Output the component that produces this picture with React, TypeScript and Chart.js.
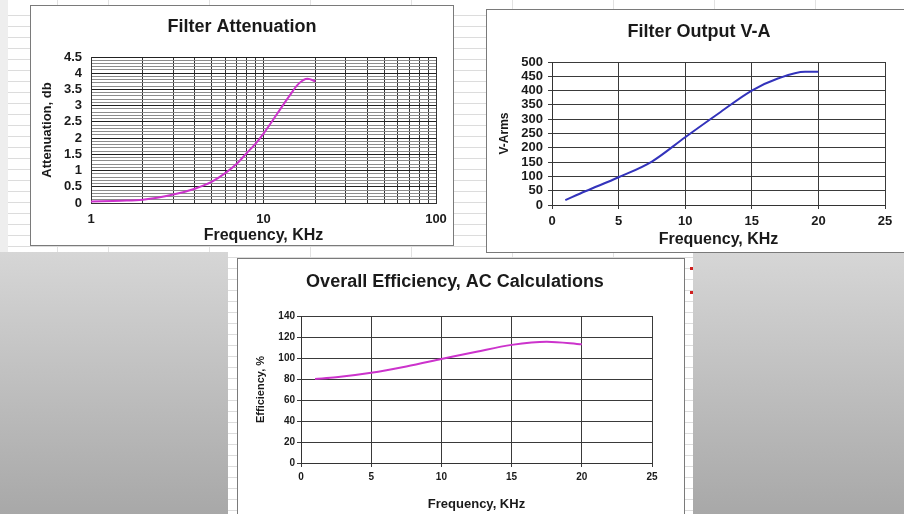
import React, { useEffect, useRef } from "react";
import { Chart, registerables } from "chart.js";
Chart.register(...registerables);
Chart.defaults.font.family = "'Liberation Sans', Arial, sans-serif";

// ---- Data ----
const attenFreq = [1, 1.5, 2, 3, 4, 5, 6, 7, 8, 9, 10, 12, 14, 16, 18, 20];
const attenDb = [0.05, 0.07, 0.1, 0.26, 0.44, 0.65, 0.92, 1.21, 1.54, 1.83, 2.14, 2.75, 3.27, 3.68, 3.83, 3.75];
const attenXTicks = [1, 2, 3, 4, 5, 6, 7, 8, 9, 10, 20, 30, 40, 50, 60, 70, 80, 90, 100];
const attenXLabels = [1, 10, 100];

const vaFreq = [1, 2.5, 5, 7.5, 10, 12.5, 15, 17, 19, 20];
const vaRms = [17, 48, 97, 152, 237, 320, 400, 443, 466, 466];

const effFreq = [1, 2.5, 5, 7.5, 10, 12.5, 15, 17.5, 20];
const effPct = [80, 81.7, 86, 92, 99, 106, 112.5, 115.5, 113];

const titleAtten = "Filter Attenuation";
const titleVA = "Filter Output V-A";
const titleEff = "Overall Efficiency, AC Calculations";
const xTitle = "Frequency, KHz";

const toXY = (xs: number[], ys: number[]) => xs.map((x, i) => ({ x, y: ys[i] }));

function ChartBox({ left, top, width, height, config }: any) {
  const ref = useRef<HTMLCanvasElement>(null);
  useEffect(() => {
    const c = new Chart(ref.current as HTMLCanvasElement, config);
    return () => c.destroy();
  }, []);
  return (
    <div
      style={{
        position: "absolute",
        left,
        top,
        width,
        height,
        background: "#fff",
        border: "1px solid #7a7a7a",
        boxSizing: "border-box",
      }}
    >
      <canvas ref={ref} width={width - 2} height={height - 2} style={{ display: "block" }} />
    </div>
  );
}

const TXT = "#1a1a1a";

const titleOpt = (text: string, size: number, pt: number, pb: number) => ({
  display: true,
  text,
  color: TXT,
  font: { size, weight: "bold" as const, lineHeight: 1.2 },
  padding: { top: pt, bottom: pb },
});

const axisTitle = (text: string, size: number, pt: number, pb: number) => ({
  display: true,
  text,
  color: TXT,
  font: { size, weight: "bold" as const, lineHeight: 1.2 },
  padding: { top: pt, bottom: pb },
});

const lineDs = (data: any, color: string) => ({
  data,
  borderColor: color,
  borderWidth: 2,
  pointRadius: 0,
  fill: false,
  cubicInterpolationMode: "monotone" as const,
});

// invisible right-hand spacer axis (keeps the title centred on the whole box)
const spacerAxis = (w: number) => ({
  type: "linear",
  position: "right",
  display: true,
  grid: { display: false, drawTicks: false },
  border: { display: false },
  ticks: { display: false },
  afterFit: (s: any) => {
    s.width = w;
  },
});

const attenConfig: any = {
  type: "line",
  data: { datasets: [lineDs(toXY(attenFreq, attenDb), "#cc33cc")] },
  options: {
    responsive: false,
    animation: false,
    layout: { padding: { left: 0, right: 0, top: 0, bottom: 0 } },
    plugins: { legend: { display: false }, tooltip: { enabled: false }, title: titleOpt(titleAtten, 18, 10.2, 19.2) },
    scales: {
      x: {
        type: "logarithmic",
        min: 1,
        max: 100,
        afterBuildTicks: (s: any) => {
          s.ticks = attenXTicks.map((v) => ({ value: v }));
        },
        afterFit: (s: any) => {
          s.height = 42;
        },
        ticks: {
          autoSkip: false,
          maxRotation: 0,
          padding: 5,
          color: TXT,
          font: { size: 13, weight: "bold" },
          callback: (v: any) => (attenXLabels.includes(Number(v)) ? String(v) : ""),
        },
        grid: { color: "#333", drawTicks: true, tickLength: 4, tickColor: "rgba(0,0,0,0)" },
        border: { color: "#333" },
        title: axisTitle(xTitle, 16, 0, 0),
      },
      y: {
        min: 0,
        max: 4.5,
        afterBuildTicks: (s: any) => {
          const t = [];
          for (let i = 0; i <= 45; i++) t.push({ value: i / 10 });
          s.ticks = t;
        },
        afterFit: (s: any) => {
          s.width = 60;
        },
        ticks: {
          autoSkip: false,
          padding: 9,
          color: TXT,
          font: { size: 13, weight: "bold" },
          callback: (v: any) => {
            const n = Number(v);
            return Math.abs(n * 2 - Math.round(n * 2)) < 1e-6 ? String(Math.round(n * 10) / 10) : "";
          },
        },
        grid: {
          drawTicks: false,
          color: (ctx: any) => {
            const n = ctx.tick ? ctx.tick.value : 0;
            return Math.abs(n * 2 - Math.round(n * 2)) < 1e-6 ? "#222" : "#8c8c8c";
          },
        },
        border: { color: "#333" },
        title: axisTitle("Attenuation, db", 13, 8.7, 0),
      },
      spacer: spacerAxis(17),
    },
  },
};

const linearConfig = (
  data: any,
  color: string,
  title: string,
  yTitle: string,
  yMax: number,
  yStep: number,
  o: any
): any => ({
  type: "line",
  data: { datasets: [lineDs(data, color)] },
  options: {
    responsive: false,
    animation: false,
    layout: { padding: { left: 0, right: o.padRight, top: 0, bottom: 0 } },
    plugins: { legend: { display: false }, tooltip: { enabled: false }, title: titleOpt(title, 18, o.titlePT, o.titlePB) },
    scales: {
      x: {
        type: "linear",
        min: 0,
        max: 25,
        afterFit: (s: any) => {
          s.height = o.xH;
        },
        ticks: { autoSkip: false, stepSize: 5, maxRotation: 0, padding: o.xTickPad, color: TXT, font: { size: o.tickSize, weight: "bold" } },
        grid: { color: "#3a3a3a", tickLength: 4, tickColor: "#3a3a3a" },
        border: { color: "#333" },
        title: axisTitle(xTitle, o.axisSize, 0, o.xTitlePB),
      },
      y: {
        min: 0,
        max: yMax,
        afterFit: (s: any) => {
          s.width = o.yW;
        },
        ticks: { autoSkip: false, stepSize: yStep, padding: o.yTickPad, color: TXT, font: { size: o.tickSize, weight: "bold" } },
        grid: { color: "#3a3a3a", tickLength: 4, tickColor: "#3a3a3a" },
        border: { color: "#333" },
        title: axisTitle(yTitle, o.yTitleSize, o.yTitlePT, 0),
      },
      spacer: spacerAxis(o.spacer),
    },
  },
});

const vaConfig = linearConfig(toXY(vaFreq, vaRms), "#3333bb", titleVA, "V-Arms", 500, 50, {
  padRight: 0,
  spacer: 26,
  titlePT: 11.2,
  titlePB: 19.2,
  xH: 47,
  xTickPad: 5,
  xTitlePB: 2.4,
  yW: 65,
  yTickPad: 5,
  yTitlePT: 10.8,
  yTitleSize: 12,
  tickSize: 13,
  axisSize: 16,
});

const effConfig = linearConfig(toXY(effFreq, effPct), "#cc33cc", titleEff, "Efficiency, %", 140, 20, {
  padRight: 12,
  spacer: 20,
  titlePT: 12.2,
  titlePB: 23.2,
  xH: 54,
  xTickPad: 4,
  xTitlePB: 5.2,
  yW: 63,
  yTickPad: 2,
  yTitlePT: 16.4,
  yTitleSize: 11,
  tickSize: 10,
  axisSize: 13,
});

export default function App() {
  const sheet = {
    backgroundColor: "#fff",
    backgroundImage:
      "repeating-linear-gradient(to bottom, transparent 0px, transparent 10px, #dcdcdc 10px, #dcdcdc 11px), repeating-linear-gradient(to right, transparent 0px, transparent 49.5px, #e2e2e2 49.5px, #e2e2e2 50.5px)",
    backgroundPosition: "8px 5px",
  };
  const gray = { background: "linear-gradient(to bottom, #d6d6d6, #a8a8a8)" };
  return (
    <div style={{ position: "fixed", left: 0, top: 0, width: 904, height: 514, overflow: "hidden", ...sheet }}>
      <div style={{ position: "absolute", left: 0, top: 0, width: 8, height: 252, background: "#eeeeee" }} />
      <div style={{ position: "absolute", left: 0, top: 252, width: 228, height: 262, ...gray }} />
      <div style={{ position: "absolute", left: 693, top: 253, width: 211, height: 261, ...gray }} />
      <div style={{ position: "absolute", left: 690, top: 267, width: 3, height: 3, background: "#d02020" }} />
      <div style={{ position: "absolute", left: 690, top: 291, width: 3, height: 3, background: "#d02020" }} />
      <ChartBox left={30} top={5} width={424} height={241} config={attenConfig} />
      <ChartBox left={486} top={9} width={426} height={244} config={vaConfig} />
      <ChartBox left={237} top={258} width={448} height={260} config={effConfig} />
    </div>
  );
}
